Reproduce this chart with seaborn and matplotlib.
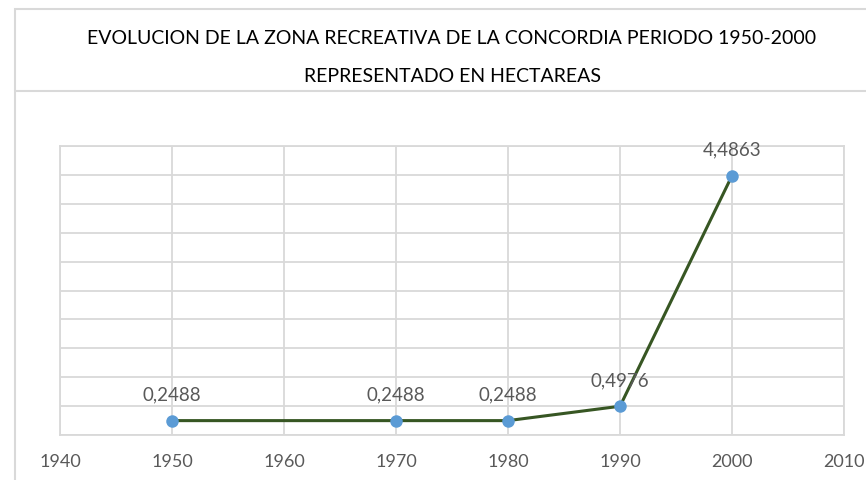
import matplotlib
matplotlib.use("Agg")
import matplotlib.pyplot as plt
from matplotlib.patches import Rectangle
from matplotlib.lines import Line2D
import seaborn as sns
import pandas as pd

# Recreational zone area per year (hectares)
years = [1950, 1970, 1980, 1990, 2000]
hectares = [0.2488, 0.2488, 0.2488, 0.4976, 4.4863]
value_labels = ["0,2488", "0,2488", "0,2488", "0,4976", "4,4863"]
x_ticks = [1940, 1950, 1960, 1970, 1980, 1990, 2000, 2010]
title_lines = [
    "EVOLUCION DE LA ZONA RECREATIVA DE LA CONCORDIA PERIODO 1950-2000",
    "REPRESENTADO EN HECTAREAS",
]

sns.set_style("white")
plt.rcParams["font.family"] = ["Lato", "DejaVu Sans"]

W, H = 866, 481
fig = plt.figure(figsize=(W / 100, H / 100), dpi=100)
fig.patch.set_facecolor("white")

grid_col = "#d9d9d9"
text_col = "#595959"

def fx(px):
    return px / W

def fy(py):
    return 1 - py / H

# Title box and chart frame
fig.add_artist(Rectangle((fx(15), fy(92)), fx(870) - fx(15), fy(10) - fy(92),
                         transform=fig.transFigure, fill=False,
                         edgecolor=grid_col, linewidth=1.5))
fig.add_artist(Line2D([fx(15), fx(15)], [fy(92), fy(485)], transform=fig.transFigure,
                      color=grid_col, linewidth=1.5))

fig.text(fx(452), fy(38), title_lines[0], ha="center", va="center",
         fontsize=14, color="#000000")
fig.text(fx(452), fy(76), title_lines[1], ha="center", va="center",
         fontsize=14, color="#000000")

ax = fig.add_axes([fx(60), fy(436), fx(844) - fx(60), fy(147) - fy(436)])
df = pd.DataFrame({"year": years, "ha": hectares})
sns.lineplot(data=df, x="year", y="ha", ax=ax, color="#375623", linewidth=2.2,
             marker="o", markersize=9, markerfacecolor="#5b9bd5",
             markeredgecolor="#5b9bd5", markeredgewidth=0, zorder=3)

ax.set_xlim(1940, 2010)
ax.set_ylim(0, 5)
ax.set_xticks(x_ticks)
ax.set_xticklabels([str(t) for t in x_ticks])
ax.set_yticks([i * 0.5 for i in range(11)])
ax.set_yticklabels([])
ax.grid(True, color=grid_col, linewidth=1.3)
ax.set_axisbelow(True)
ax.tick_params(axis="x", length=0, pad=13, labelsize=13, labelcolor=text_col)
ax.tick_params(axis="y", length=0)
for s in ax.spines.values():
    s.set_color(grid_col)
    s.set_linewidth(1.3)
ax.set_xlabel("")
ax.set_ylabel("")

for x, y, lab in zip(years, hectares, value_labels):
    ax.annotate(lab, (x, y), xytext=(0, 19), textcoords="offset points",
                ha="center", va="center", fontsize=13.5, color=text_col)

fig.savefig("out.png", dpi=100, facecolor="white")
